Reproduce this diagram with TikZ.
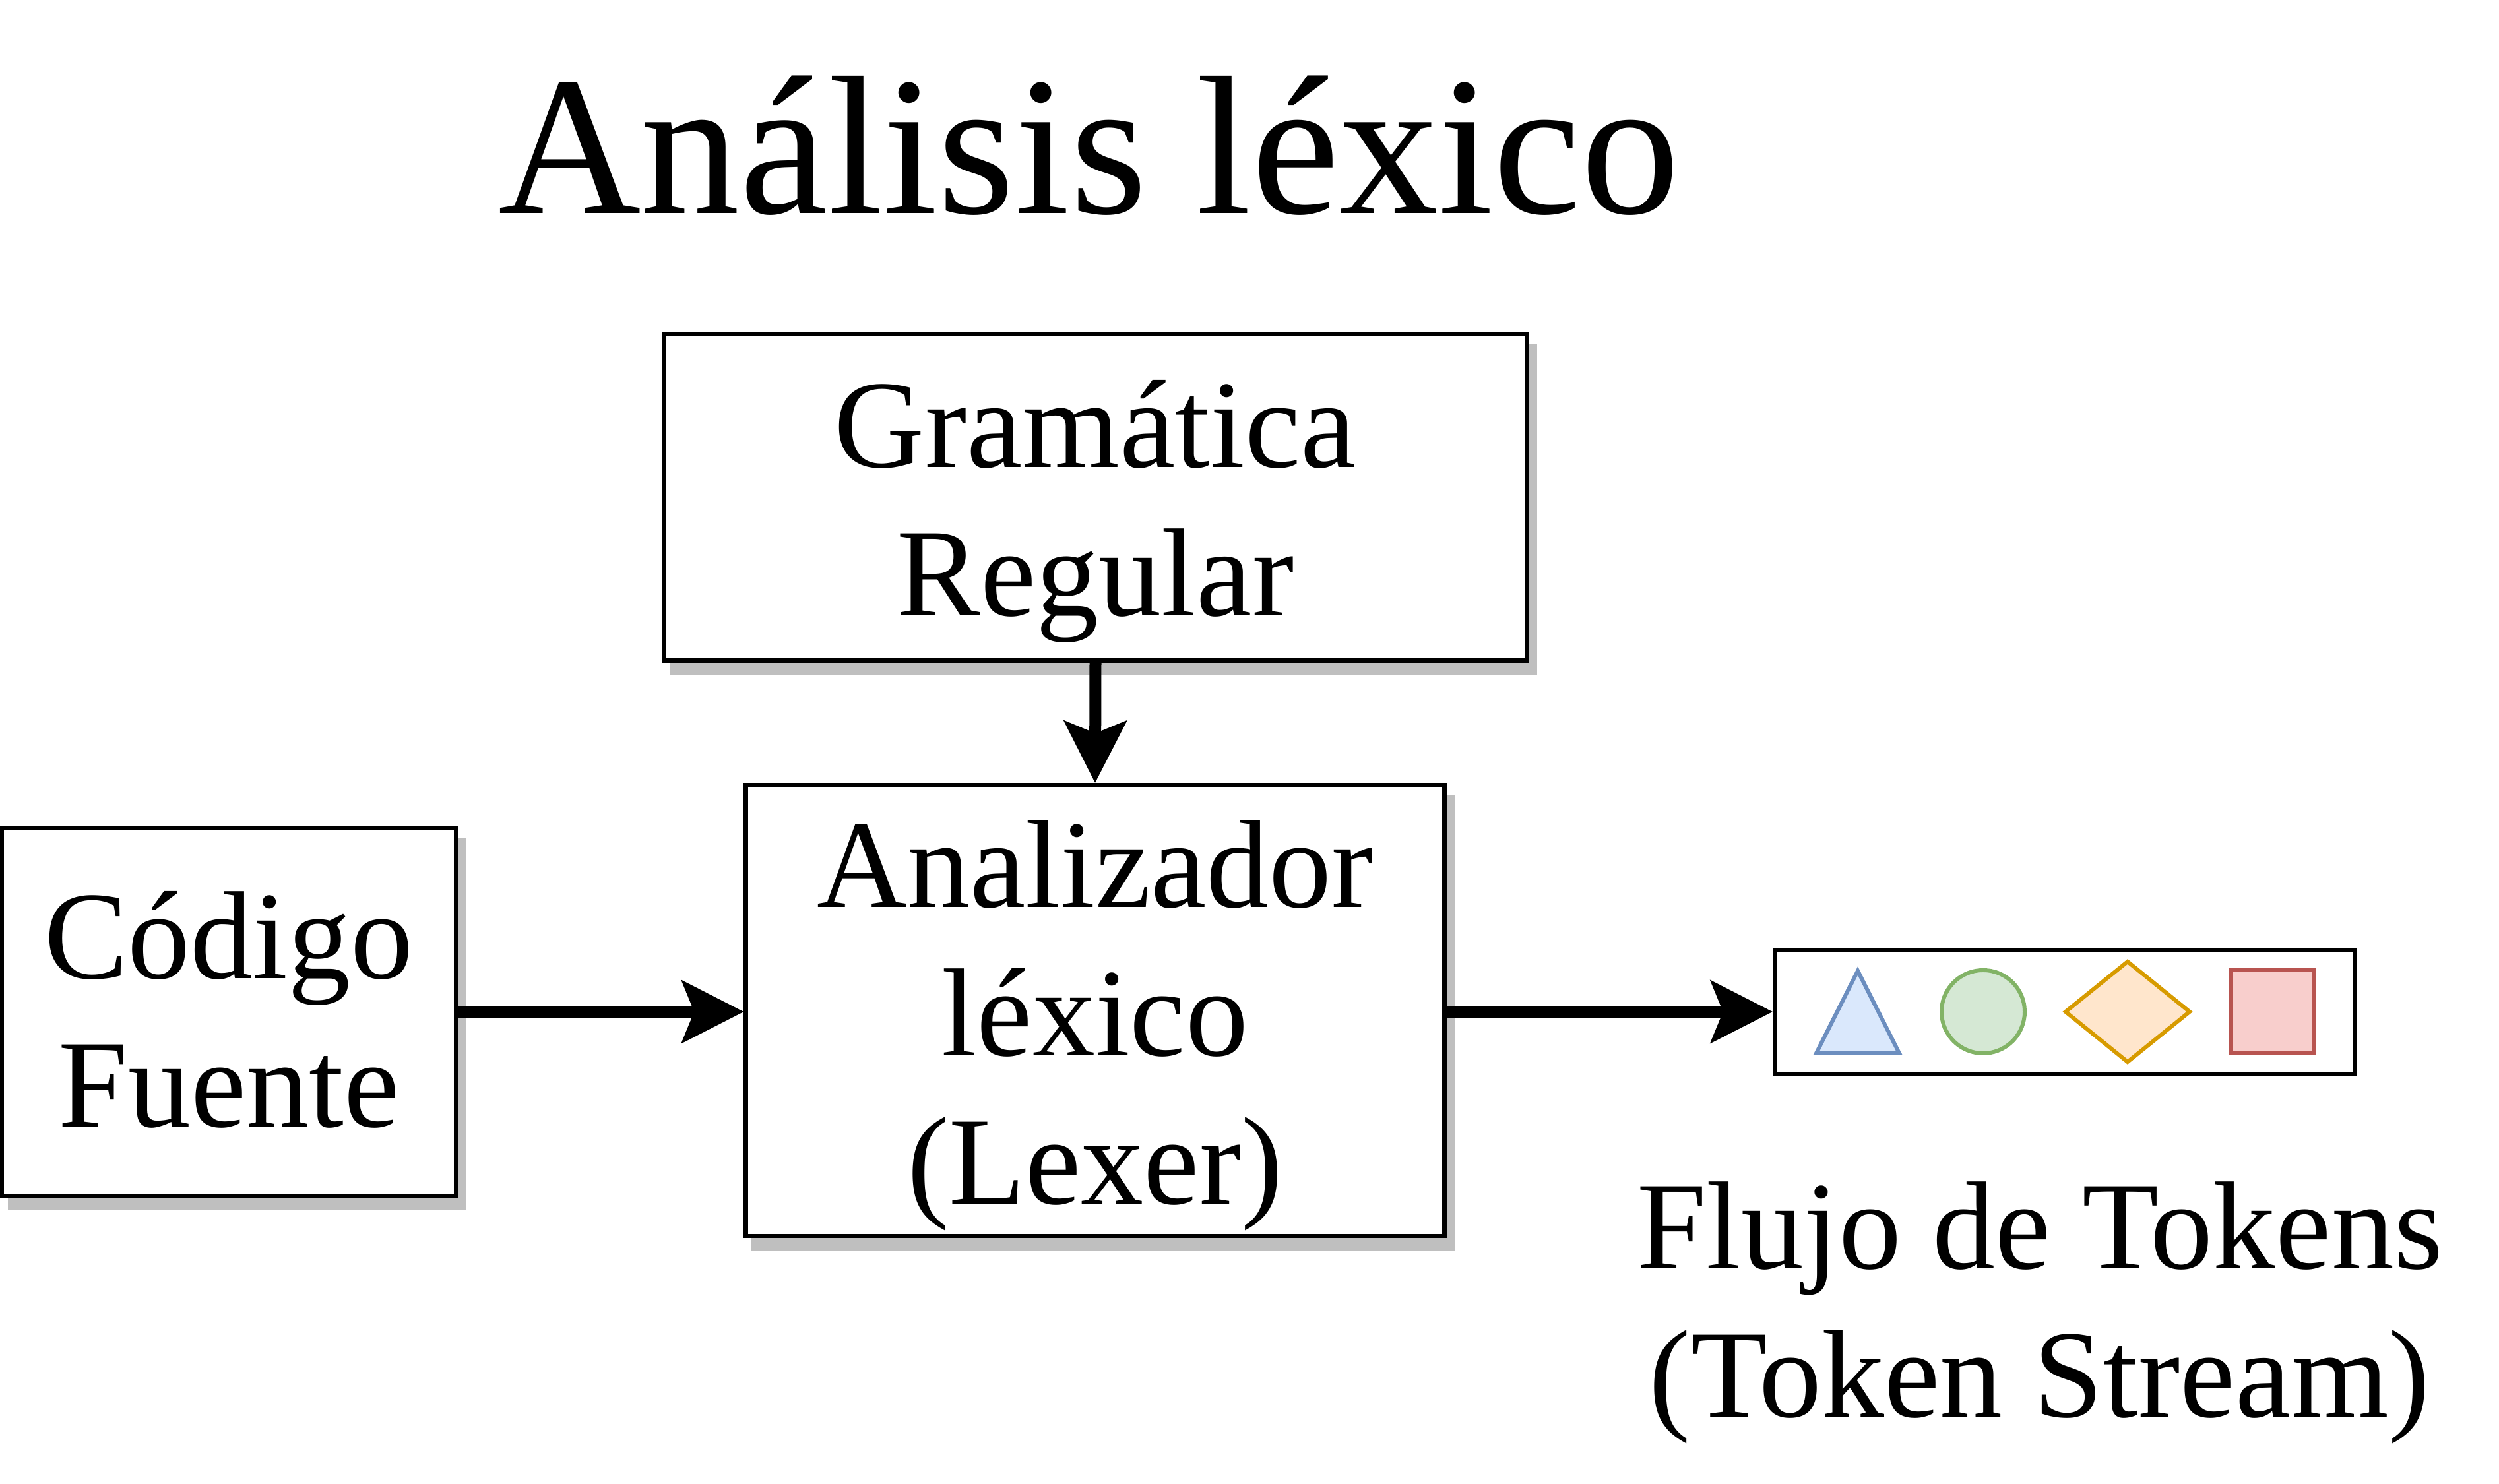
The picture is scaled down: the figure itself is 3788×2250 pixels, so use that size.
\documentclass[tikz,border=0pt]{standalone}
\usepackage{fontspec}
\setmainfont{Liberation Serif}
\usetikzlibrary{arrows.meta,shadows}
\definecolor{shadowgray}{HTML}{BFBFBF}
\definecolor{blueF}{HTML}{DAE8FC}\definecolor{blueD}{HTML}{6C8EBF}
\definecolor{greenF}{HTML}{D5E8D4}\definecolor{greenD}{HTML}{82B366}
\definecolor{orangeF}{HTML}{FFE6CC}\definecolor{orangeD}{HTML}{D79B00}
\definecolor{redF}{HTML}{F8CECC}\definecolor{redD}{HTML}{B85450}
\begin{document}
\begin{tikzpicture}[x=0.1pt,y=-0.1pt,
  boxnode/.style={draw=black, fill=white, line width=0.65pt, inner sep=0pt,
    align=center, font=\fontsize{19}{22.5}\selectfont, text depth=0pt,
    drop shadow={shadow xshift=1.2pt, shadow yshift=-1.9pt,
      fill=shadowgray, draw=shadowgray, opacity=1}},
  flow/.style={line width=1.8pt,
    -{Stealth[length=9.5pt, width=9.7pt, inset=2pt, line width=0pt]}},
  tokshape/.style={line width=0.6pt},
  bigtext/.style={font=\fontsize{19}{22.5}\selectfont, align=center, inner sep=0pt}]
\useasboundingbox (0,0) rectangle (3788,2250);

\node[font=\fontsize{30}{36}\selectfont, anchor=base, inner sep=0pt] (title) at (1651,324) {Análisis léxico};

\node[boxnode, minimum width=130.8pt, minimum height=49.5pt, text height=36pt] (gram) at (1660.5,754) {Gramática\\Regular};
\node[boxnode, minimum width=68.8pt, minimum height=55.8pt, text height=35pt] (cod) at (347,1534) {Código\\Fuente};
\node[boxnode, minimum width=105.9pt, minimum height=68.4pt, text height=58.8pt] (ana) at (1660,1532) {Analizador\\léxico\\(Lexer)};
\node[draw=black, fill=white, line width=0.65pt, inner sep=0pt, minimum width=87.9pt, minimum height=18.8pt] (tok) at (3129.5,1534) {};

\draw[tokshape, draw=blueD, fill=blueF] (2753,1597) -- (2816,1472) -- (2879,1597) -- cycle;
\draw[tokshape, draw=greenD, fill=greenF] (3006,1534) circle[radius=6.3pt];
\draw[tokshape, draw=orangeD, fill=orangeF] (3131,1534) -- (3225,1458) -- (3319,1534) -- (3225,1610) -- cycle;
\draw[tokshape, draw=redD, fill=redF] (3382,1471) rectangle (3508,1597);

\node[bigtext, text height=36pt, text depth=0pt] (flujo) at (3092,1969) {Flujo de Tokens\\(Token Stream)};

\draw[flow] (gram.south) -- (ana.north);
\draw[flow] (cod.east) -- (cod.east -| ana.west);
\draw[flow] (ana.east |- tok.west) -- (tok.west);
\end{tikzpicture}
\end{document}
